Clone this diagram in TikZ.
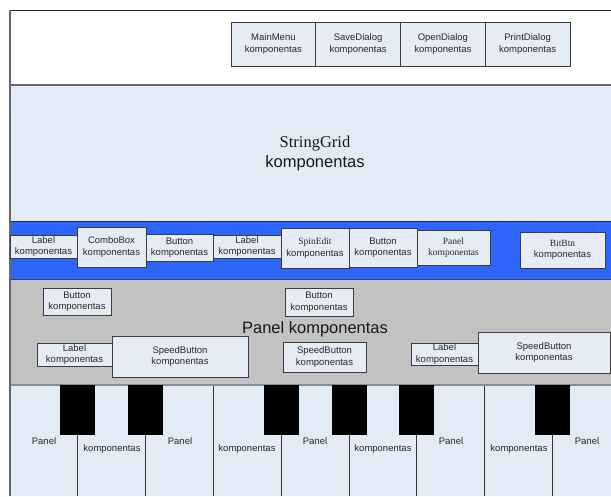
\documentclass[tikz,border=0pt]{standalone}
\usepackage{fontspec}
\setmainfont{Liberation Sans}
\newfontfamily\timesfont{Liberation Serif}
\definecolor{boxfill}{RGB}{230,236,246}
\definecolor{boxline}{RGB}{60,60,64}
\definecolor{gridfill}{RGB}{227,235,246}
\definecolor{bandblue}{RGB}{45,100,250}
\definecolor{panelgray}{RGB}{194,194,194}
\definecolor{keyfill}{RGB}{227,235,246}
\definecolor{navyline}{RGB}{30,40,90}
\definecolor{inktext}{RGB}{40,40,40}
\tikzset{
  comp/.style={draw=boxline, fill=boxfill, line width=0.8pt, align=center,
    inner sep=0pt, text=inktext, font=\fontsize{9.5}{11.5}\selectfont},
  bigtext/.style={align=center, inner sep=0pt, text=black!90, font=\fontsize{16.5}{20}\selectfont},
  keytext/.style={inner sep=0pt, text=inktext, font=\fontsize{9.5}{12}\selectfont},
  blackkey/.style={fill=black},
  keyline/.style={draw=black!80, line width=0.9pt}
}
\begin{document}
\begin{tikzpicture}[x=1pt,y=-1pt]
\useasboundingbox (0,0) rectangle (611,496);
\fill[white] (0,0) rectangle (611,496);

% horizontal bands
\fill[gridfill]  (10,85)  rectangle (611,221);
\fill[bandblue]  (10,221) rectangle (611,279);
\fill[panelgray] (10,279) rectangle (611,385);
\fill[keyfill]   (10,385) rectangle (611,496);

\draw[black!85, line width=1pt] (10,10) -- (611,10);
\draw[black!60, line width=1.5pt] (10,85) -- (611,85);
\draw[navyline, line width=1pt] (10,221) -- (611,221);
\draw[navyline!70!gray, line width=1pt] (10,279) -- (611,279);
\draw[black!45, line width=1.2pt] (10,385) -- (611,385);
\draw[black!60, line width=1.2pt] (10,10) -- (10,496);

% dialog components
\node[comp, minimum width=84.75pt, minimum height=44pt] (mainmenu)  at (273.4,44) {MainMenu\\komponentas};
\node[comp, minimum width=84.75pt, minimum height=44pt] (savedlg)   at (358.1,44) {SaveDialog\\komponentas};
\node[comp, minimum width=84.75pt, minimum height=44pt] (opendlg)   at (442.9,44) {OpenDialog\\komponentas};
\node[comp, minimum width=84.75pt, minimum height=44pt] (printdlg)  at (527.6,44) {PrintDialog\\komponentas};

% string grid
\node[bigtext] (grid) at (315,153) {{\timesfont StringGrid}\\komponentas};

% blue tool strip
\node[comp, minimum width=67pt, minimum height=23pt] (label1)  at (43.5,246.5) {Label\\komponentas};
\node[comp, minimum width=67pt, minimum height=27pt] (button1) at (179.5,247.5) {Button\\komponentas};
\node[comp, minimum width=68pt, minimum height=23pt] (label2)  at (247,246.5) {Label\\komponentas};
\node[comp, minimum width=73pt, minimum height=35pt] (panel1)  at (453.5,247.5) {{\timesfont Panel}\\{\timesfont komponentas}};
\node[comp, minimum width=69pt, minimum height=40pt] (combo)   at (111.5,247) {ComboBox\\komponentas};
\node[comp, minimum width=68pt, minimum height=40pt] (spin)    at (315,248) {{\timesfont SpinEdit}\\komponentas};
\node[comp, minimum width=68pt, minimum height=39pt] (button2) at (383,247.5) {Button\\komponentas};
\node[comp, minimum width=85pt, minimum height=36pt] (bitbtn)  at (562.5,250) {{\timesfont BitBtn}\\komponentas};

% gray panel
\node[bigtext] (paneltitle) at (315,329) {Panel komponentas};
\node[comp, minimum width=68pt, minimum height=27pt] (button3) at (77,301.5) {Button\\komponentas};
\node[comp, minimum width=68pt, minimum height=28pt] (button4) at (319,302) {Button\\komponentas};
\node[comp, minimum width=75pt, minimum height=23pt] (label3)  at (74.5,354.5) {Label\\komponentas};
\node[comp, minimum width=136pt, minimum height=41pt] (speed1) at (180,356.5) {SpeedButton\\komponentas};
\node[comp, minimum width=83pt, minimum height=30pt] (speed2)  at (324.5,357) {SpeedButton\\komponentas};
\node[comp, minimum width=67pt, minimum height=22pt] (label4)  at (444.5,354) {Label\\komponentas};
\node[comp, minimum width=132pt, minimum height=41pt] (speed3) at (544,352.5) {SpeedButton\\komponentas};

% keyboard of panels
\foreach \x in {77.8,145.6,281.2,349,416.8,552.4}{
  \fill[blackkey] (\x-17.5,385) rectangle (\x+17.5,435);
  \draw[keyline] (\x,435) -- (\x,496);
}
\foreach \x in {213.4,484.6}{
  \draw[keyline] (\x,386) -- (\x,496);
}
\node[keytext] (p1) at (44,441.5) {Panel};
\node[keytext] (k1) at (112,449) {komponentas};
\node[keytext] (p2) at (180,441.5) {Panel};
\node[keytext] (k2) at (247,449) {komponentas};
\node[keytext] (p3) at (315,441.5) {Panel};
\node[keytext] (k3) at (383,449) {komponentas};
\node[keytext] (p4) at (451,441.5) {Panel};
\node[keytext] (k4) at (519,449) {komponentas};
\node[keytext] (p5) at (587,441.5) {Panel};
\end{tikzpicture}
\end{document}
